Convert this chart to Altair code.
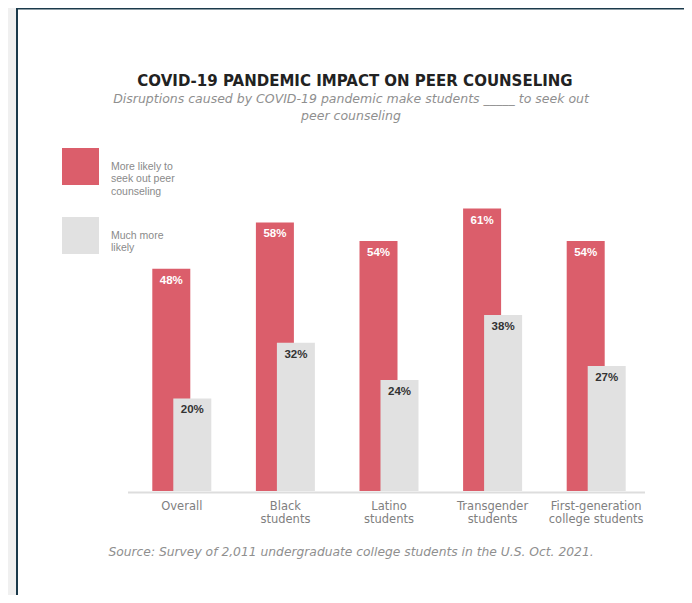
import altair as alt
import pandas as pd

# ---- data ----
categories = ["Overall", "Black students", "Latino students",
              "Transgender students", "First-generation college students"]
category_labels = ["Overall", "Black\nstudents", "Latino\nstudents",
                   "Transgender\nstudents", "First-generation\ncollege students"]
more_likely = [48, 58, 54, 61, 54]
much_more_likely = [20, 32, 24, 38, 27]
series_names = ["More likely to\nseek out peer\ncounseling", "Much more\nlikely"]
series_colors = ["#db5e6b", "#e1e1e1"]

title_text = "COVID-19 PANDEMIC IMPACT ON PEER COUNSELING"
subtitle_lines = ["Disruptions caused by COVID-19 pandemic make students _____ to seek out",
                  "peer counseling"]
source_text = "Source: Survey of 2,011 undergraduate college students in the U.S. Oct. 2021."

W, H = 676, 587
FONT = "Liberation Sans"
WIDE = "DejaVu Sans"

df_red = pd.DataFrame({"category": categories, "series": series_names[0],
                       "value": more_likely,
                       "label": [f"{v}%" for v in more_likely]})
df_gray = pd.DataFrame({"category": categories, "series": series_names[1],
                        "value": much_more_likely,
                        "label": [f"{v}%" for v in much_more_likely]})
df_cat = pd.DataFrame({"category": categories, "label": category_labels})

xscale = alt.Scale(domain=categories, range=[122, 640], paddingInner=0, paddingOuter=0)
yscale = alt.Scale(domain=[0, 100], range=[483, 20], nice=False, zero=True)
cscale = alt.Scale(domain=series_names, range=series_colors)

X = alt.X("category:N", scale=xscale, axis=None)
Y = alt.Y("value:Q", scale=yscale, axis=None)

one = pd.DataFrame({"k": [0]})

# decorations: page frame
strip = alt.Chart(one).mark_rect(color="#f0f0f0").encode(
    x=alt.value(0), x2=alt.value(8), y=alt.value(0), y2=alt.value(H))
left_border = alt.Chart(one).mark_rule(color="#1b3a4b", strokeWidth=2).encode(
    x=alt.value(9), y=alt.value(0), y2=alt.value(H))
top_border = alt.Chart(one).mark_rule(color="#1b3a4b", strokeWidth=2).encode(
    x=alt.value(8), x2=alt.value(W), y=alt.value(0.5))

legend = alt.Legend(orient="none", legendX=54, legendY=140, title=None,
                    symbolType="square", symbolSize=1369, symbolStrokeWidth=0,
                    symbolOpacity=1,
                    labelExpr="split(datum.label, '\\n')",
                    labelFont=FONT, labelFontSize=10.5, labelColor="#8a8a8a",
                    labelOffset=12, rowPadding=20, padding=0, labelLimit=300)

bars_red = alt.Chart(df_red).mark_bar(size=38, xOffset=-10.5, opacity=1).encode(
    x=X, y=Y, color=alt.Color("series:N", scale=cscale, legend=legend))
bars_gray = alt.Chart(df_gray).mark_bar(size=38, xOffset=10.5, opacity=1).encode(
    x=X, y=Y, color=alt.Color("series:N", scale=cscale, legend=legend))

lab_red = alt.Chart(df_red).mark_text(dy=12, xOffset=-10.5, font=FONT, fontSize=11.5,
                                      fontWeight="bold", color="white",
                                      baseline="middle").encode(x=X, y=Y, text="label:N")
lab_gray = alt.Chart(df_gray).mark_text(dy=12, xOffset=10.5, font=FONT, fontSize=11.5,
                                        fontWeight="bold", color="#333333",
                                        baseline="middle").encode(x=X, y=Y, text="label:N")

axis_line = alt.Chart(one).mark_rule(color="#dddddd", strokeWidth=2).encode(
    x=alt.value(120), x2=alt.value(637), y=alt.value(484.5))

cat_labels = alt.Chart(df_cat).mark_text(font=WIDE, fontSize=11.5, color="#808080",
                                         lineBreak="\n", lineHeight=12.5,
                                         baseline="alphabetic").encode(
    x=X, y=alt.value(502), text="label:N")

title = alt.Chart(pd.DataFrame({"t": [title_text]})).mark_text(
    font=WIDE, fontSize=15, fontWeight="bold", color="#222222",
    baseline="middle").encode(x=alt.value(347), y=alt.value(73), text="t:N")

subtitle = alt.Chart(pd.DataFrame({"t": ["\n".join(subtitle_lines)]})).mark_text(
    font=WIDE, fontSize=12.5, fontStyle="italic", color="#8f8f8f", lineBreak="\n",
    lineHeight=17, baseline="alphabetic").encode(x=alt.value(343), y=alt.value(94.5), text="t:N")

source = alt.Chart(pd.DataFrame({"t": [source_text]})).mark_text(
    font=WIDE, fontSize=12.3, fontStyle="italic", color="#8f8f8f",
    baseline="middle").encode(x=alt.value(343), y=alt.value(544), text="t:N")

chart = alt.layer(
    strip, left_border, top_border,
    bars_red, bars_gray, axis_line, lab_red, lab_gray,
    cat_labels, title, subtitle, source
).properties(
    width=W, height=H,
    autosize=alt.AutoSizeParams(type="none"),
    padding=0,
    background="white",
).configure_view(stroke=None)

chart.save("out.html", embed_options={"renderer": "svg", "actions": False})
